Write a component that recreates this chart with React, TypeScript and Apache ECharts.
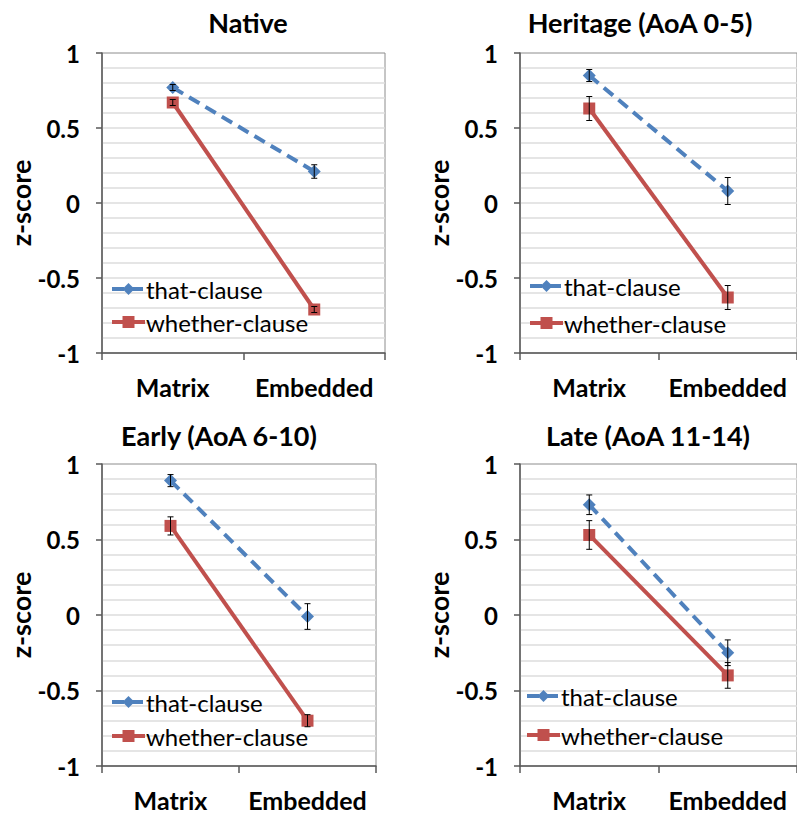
import React, { useEffect, useRef } from "react";
import * as echarts from "echarts";

// ---- data ----
const categories = ["Matrix", "Embedded"];
const panelTitles = ["Native", "Heritage (AoA 0-5)", "Early (AoA 6-10)", "Late (AoA 11-14)"];
const seriesNames = ["that-clause", "whether-clause"];
const yTicks = { min: -1, max: 1, interval: 0.5 };

const nativeThat = [0.77, 0.21];
const nativeThatErr = [0.02, 0.045];
const nativeWhether = [0.67, -0.71];
const nativeWhetherErr = [0.02, 0.02];

const heritageThat = [0.85, 0.08];
const heritageThatErr = [0.04, 0.09];
const heritageWhether = [0.63, -0.63];
const heritageWhetherErr = [0.08, 0.08];

const earlyThat = [0.89, -0.01];
const earlyThatErr = [0.04, 0.085];
const earlyWhether = [0.59, -0.7];
const earlyWhetherErr = [0.06, 0.04];

const lateThat = [0.73, -0.25];
const lateThatErr = [0.065, 0.085];
const lateWhether = [0.53, -0.4];
const lateWhetherErr = [0.095, 0.085];

const panelData = [
  { that: nativeThat, thatErr: nativeThatErr, whether: nativeWhether, whetherErr: nativeWhetherErr },
  { that: heritageThat, thatErr: heritageThatErr, whether: heritageWhether, whetherErr: heritageWhetherErr },
  { that: earlyThat, thatErr: earlyThatErr, whether: earlyWhether, whetherErr: earlyWhetherErr },
  { that: lateThat, thatErr: lateThatErr, whether: lateWhether, whetherErr: lateWhetherErr },
];

// ---- layout ----
const grids = [
  { left: 102, top: 53, width: 283, height: 300 },
  { left: 520, top: 53, width: 283, height: 300 },
  { left: 102, top: 464, width: 274, height: 302 },
  { left: 520, top: 464, width: 283, height: 302 },
];
const titlePos = [
  { x: 248, y: 9 },
  { x: 640, y: 9 },
  { x: 219, y: 422 },
  { x: 648, y: 422 },
];
const legendPos = [
  { left: 110, top: 275, gap: 5 },
  { left: 528, top: 272, gap: 9 },
  { left: 110, top: 688, gap: 6 },
  { left: 525, top: 682, gap: 11 },
];

const BLUE = "#4F81BD";
const RED = "#C0504D";
const FONT = "Lato";

function errorRenderItem(params: any, api: any) {
  const x = api.value(0);
  const lo = api.value(1);
  const hi = api.value(2);
  const top = api.coord([x, hi]);
  const bot = api.coord([x, lo]);
  const hw = 3;
  const st = { stroke: "#000", lineWidth: 1 };
  return {
    type: "group",
    children: [
      { type: "line", shape: { x1: top[0], y1: top[1], x2: bot[0], y2: bot[1] }, style: st },
      { type: "line", shape: { x1: top[0] - hw, y1: top[1], x2: top[0] + hw, y2: top[1] }, style: st },
      { type: "line", shape: { x1: bot[0] - hw, y1: bot[1], x2: bot[0] + hw, y2: bot[1] }, style: st },
    ],
  };
}

function buildOption() {
  const grid: any[] = [];
  const xAxis: any[] = [];
  const yAxis: any[] = [];
  const series: any[] = [];
  const title: any[] = [];
  const legend: any[] = [];

  panelData.forEach((p, i) => {
    grid.push({ ...grids[i], show: true, borderColor: "#8c8c8c", borderWidth: 1, containLabel: false });
    xAxis.push({
      gridIndex: i,
      type: "category",
      data: categories,
      boundaryGap: true,
      axisLine: { onZero: false, lineStyle: { color: "#595959", width: 1.5 } },
      axisTick: { show: true, length: 7, interval: 0, lineStyle: { color: "#595959", width: 1.5 } },
      axisLabel: {
        margin: 22,
        fontFamily: FONT,
        fontWeight: "bold",
        fontSize: 25,
        lineHeight: 24,
        color: "#000",
        interval: 0,
      },
      splitLine: { show: false },
    });
    yAxis.push({
      gridIndex: i,
      type: "value",
      min: yTicks.min,
      max: yTicks.max,
      interval: yTicks.interval,
      name: "z-score",
      nameLocation: "middle",
      nameGap: 67,
      nameTextStyle: { fontFamily: FONT, fontWeight: "bold", fontSize: 27, color: "#000" },
      axisLine: { show: true, onZero: false, lineStyle: { color: "#595959", width: 1.5 } },
      axisTick: { show: true, length: 6, lineStyle: { color: "#595959", width: 1.5 } },
      axisLabel: { margin: 22, fontFamily: FONT, fontWeight: "bold", fontSize: 24, color: "#000" },
      splitLine: { show: true, showMaxLine: false, showMinLine: false, lineStyle: { color: "#dcdcdc", width: 1.5 } },
      minorTick: { show: false, splitNumber: 5 },
      minorSplitLine: { show: true, lineStyle: { color: "#dcdcdc", width: 1.5 } },
    });
    title.push({
      text: panelTitles[i],
      left: titlePos[i].x,
      top: titlePos[i].y,
      textAlign: "center",
      padding: 0,
      textStyle: { fontFamily: FONT, fontWeight: "bold", fontSize: 27, color: "#000" },
    });
    legend.push({
      data: seriesNames,
      orient: "vertical",
      left: legendPos[i].left,
      top: legendPos[i].top,
      itemGap: legendPos[i].gap,
      padding: 0,
      itemWidth: 33,
      itemHeight: 15,
      selectedMode: false,
      lineStyle: { width: 4 },
      textStyle: { fontFamily: FONT, fontSize: 24, color: "#000", lineHeight: 28, padding: [0, 0, 0, -4] },
    });

    series.push({
      name: seriesNames[0],
      type: "line",
      xAxisIndex: i,
      yAxisIndex: i,
      data: p.that,
      symbol: "diamond",
      symbolSize: 13,
      itemStyle: { color: BLUE },
      lineStyle: { color: BLUE, width: 4, type: [12, 7] },
      z: 3,
    });
    series.push({
      name: seriesNames[1],
      type: "line",
      xAxisIndex: i,
      yAxisIndex: i,
      data: p.whether,
      symbol: "rect",
      symbolSize: 12,
      itemStyle: { color: RED },
      lineStyle: { color: RED, width: 4, type: "solid" },
      z: 2,
    });
    series.push({
      name: "err-that-" + i,
      type: "custom",
      xAxisIndex: i,
      yAxisIndex: i,
      renderItem: errorRenderItem,
      encode: { x: 0, y: [1, 2] },
      data: p.that.map((v, k) => [k, v - p.thatErr[k], v + p.thatErr[k]]),
      z: 4,
      silent: true,
    });
    series.push({
      name: "err-whether-" + i,
      type: "custom",
      xAxisIndex: i,
      yAxisIndex: i,
      renderItem: errorRenderItem,
      encode: { x: 0, y: [1, 2] },
      data: p.whether.map((v, k) => [k, v - p.whetherErr[k], v + p.whetherErr[k]]),
      z: 4,
      silent: true,
    });
  });

  return { animation: false, backgroundColor: "#fff", title, legend, grid, xAxis, yAxis, series };
}

export default function App() {
  const ref = useRef<HTMLDivElement>(null);
  useEffect(() => {
    if (!ref.current) return;
    const chart = echarts.init(ref.current, null, { renderer: "svg" });
    chart.setOption(buildOption() as any);
    return () => chart.dispose();
  }, []);
  return (
    <div
      ref={ref}
      style={{ position: "absolute", left: 0, top: 0, width: 797, height: 815, background: "#fff" }}
    />
  );
}
